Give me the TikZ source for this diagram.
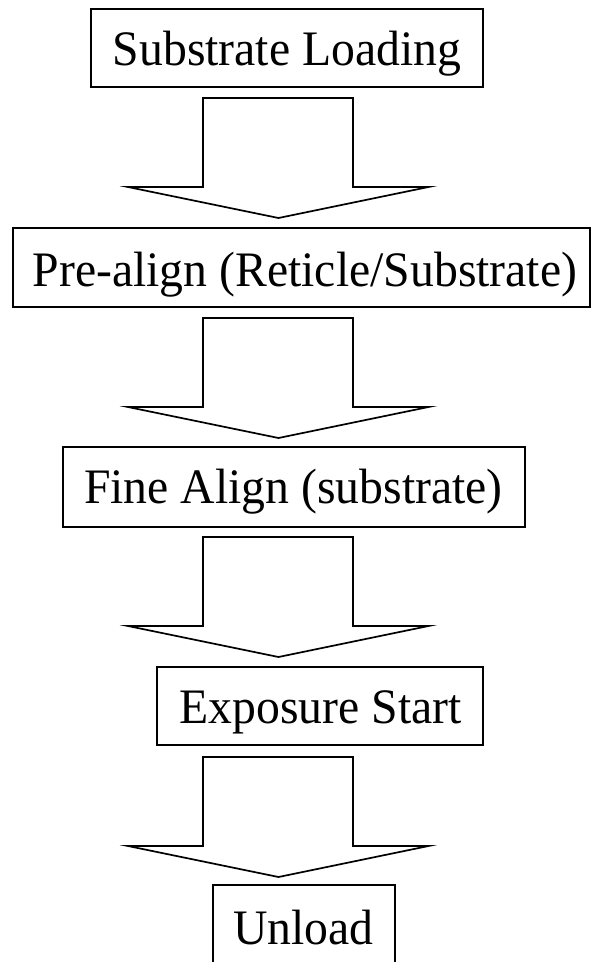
\documentclass[tikz,border=0pt]{standalone}
\usepackage{fontspec}
\setmainfont{Liberation Serif}
\tikzset{
  box/.style={draw=black, line width=1.9pt, rectangle, inner sep=0pt},
  lbl/.style={anchor=base, inner sep=0pt, font=\fontsize{47.7}{50}\selectfont, yscale=1.04},
  arrowline/.style={draw=black, line width=1.7pt, line join=miter, fill=white},
  blockarrow/.pic={\path[arrowline] (-75,0) -- (75,0) -- (75,89) -- (150.5,89) -- (0.5,120) -- (-150,89) -- (-75,89) -- cycle;}
}
\begin{document}
\begin{tikzpicture}[x=1pt,y=-1pt]
\useasboundingbox (0,0) rectangle (592,962);
\fill[white] (0,0) rectangle (592,962);
% boxes
\node[box, minimum width=392pt, minimum height=78pt] (b1) at (287,48) {};
\node[lbl] (t1) at (287,65) {Substrate Loading};
\node[box, minimum width=577pt, minimum height=79pt] (b2) at (301.5,267.5) {};
\node[lbl] (t2) at (305,286) {Pre-align (Reticle/Substrate)};
\node[box, minimum width=462pt, minimum height=80pt] (b3) at (294,487) {};
\node[lbl] (t3) at (293.5,503) {Fine Align (substrate)};
\node[box, minimum width=326pt, minimum height=78pt] (b4) at (320,706) {};
\node[lbl] (t4) at (320.5,723) {Exposure Start};
\node[box, minimum width=182pt, minimum height=82pt] (b5) at (304,926) {};
\node[lbl] (t5) at (303.5,944) {Unload};
% block arrows
\pic (a1) at (278,98) {blockarrow};
\pic (a2) at (278,318) {blockarrow};
\pic (a3) at (278,537) {blockarrow};
\pic (a4) at (278,757) {blockarrow};
\end{tikzpicture}
\end{document}
